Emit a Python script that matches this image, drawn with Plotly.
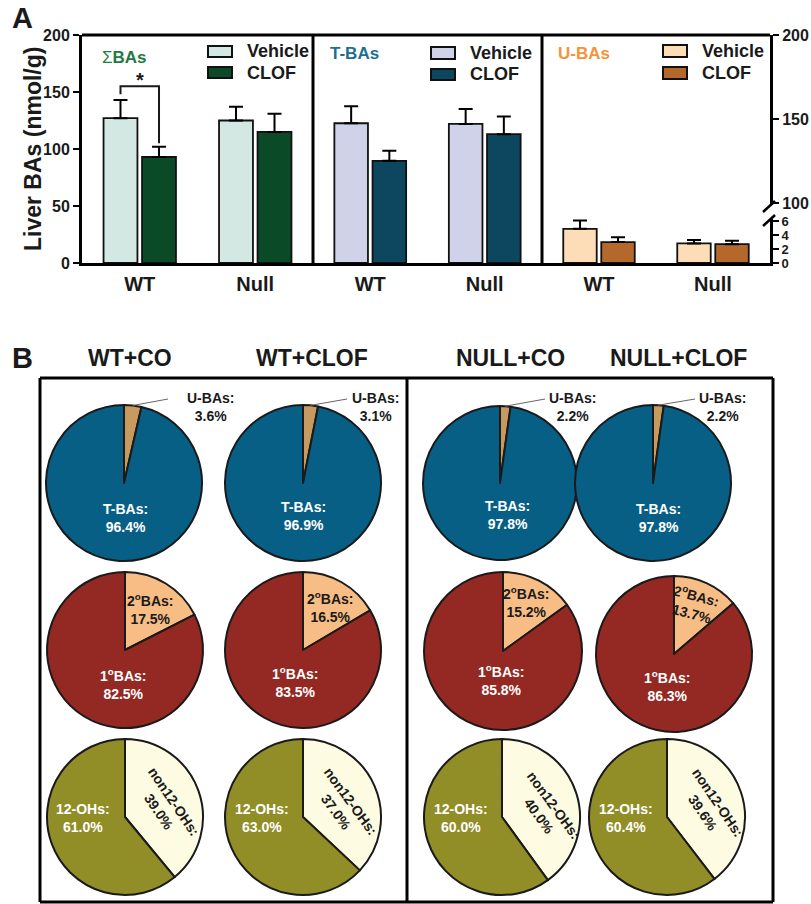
import math

import plotly.graph_objects as go

W, H = 811, 904


def px(x):
    return x / W


def py(y):
    return 1 - y / H


FONT = "Liberation Sans, Arial, Helvetica, sans-serif"

# ---------------- Panel A data: liver bile acids (nmol/g), mean and +SEM ----------------
groups = ["WT", "Null"]
treatments = ["Vehicle", "CLOF"]

sum_vehicle = [127, 125]
sum_vehicle_err = [16, 12]
sum_clof = [93, 115]
sum_clof_err = [9, 16]

tba_vehicle = [122.6, 122]
tba_vehicle_err = [15, 13]
tba_clof = [89.6, 113]
tba_clof_err = [8.8, 15.4]

uba_vehicle = [4.9, 2.8]
uba_vehicle_err = [1.2, 0.5]
uba_clof = [3.0, 2.7]
uba_clof_err = [0.7, 0.5]

left_ticks = [0, 50, 100, 150, 200]
right_low_ticks = [0, 2, 4, 6]
right_high_ticks = [100, 150, 200]

# ---------------- Panel B data: composition (%) ----------------
pie_groups = ["WT+CO", "WT+CLOF", "NULL+CO", "NULL+CLOF"]
u_bas = [3.6, 3.1, 2.2, 2.2]
t_bas = [96.4, 96.9, 97.8, 97.8]
sec_bas = [17.5, 16.5, 15.2, 13.7]
pri_bas = [82.5, 83.5, 85.8, 86.3]
non12_ohs = [39.0, 37.0, 40.0, 39.6]
oh12_ohs = [61.0, 63.0, 60.0, 60.4]

colors = {
    "sum": ["#d3e8e3", "#0a4a27"],
    "tba": ["#cfd2e8", "#0c475f"],
    "uba": ["#fddcb8", "#b5682c"],
}
pie_colors = {
    "u": "#c79b5f", "t": "#075f86",
    "sec": "#f7bd84", "pri": "#942822",
    "non12": "#fdfbe1", "oh12": "#918d27",
}

fig = go.Figure()

err_style = dict(type="data", symmetric=False, color="black", thickness=2, width=7)


def add_bars(xa, ya, veh, veh_err, clof, clof_err, cols):
    for name, vals, errs, col in ((treatments[0], veh, veh_err, cols[0]),
                                  (treatments[1], clof, clof_err, cols[1])):
        fig.add_trace(go.Bar(
            x=groups, y=vals, name=name, xaxis=xa, yaxis=ya,
            offsetgroup=name,
            marker=dict(color=col, line=dict(color="#111111", width=1.8)),
            error_y=dict(array=errs, arrayminus=[0] * len(errs), **err_style),
            showlegend=False, hoverinfo="skip",
        ))


add_bars("x", "y", sum_vehicle, sum_vehicle_err, sum_clof, sum_clof_err, colors["sum"])
add_bars("x2", "y2", tba_vehicle, tba_vehicle_err, tba_clof, tba_clof_err, colors["tba"])
add_bars("x3", "y3", uba_vehicle, uba_vehicle_err, uba_clof, uba_clof_err, colors["uba"])
# empty trace so the upper segment of the broken axis is drawn
fig.add_trace(go.Scatter(x=[groups[0]], y=[None], xaxis="x3", yaxis="y4",
                         mode="markers", showlegend=False, hoverinfo="skip"))

ybot, ytop = 263, 35
xaxis_common = dict(
    type="category", range=[-0.5, 1.5], showline=True, linecolor="black",
    linewidth=3, ticks="", ticklabelstandoff=1, automargin=False,
    tickfont=dict(family=FONT, size=20, color="#1a1a1a", weight="bold"),
    showgrid=False, zeroline=False, fixedrange=True,
)
tick_font = dict(family=FONT, size=16, color="#1a1a1a", weight="bold")
yaxis_common = dict(ticks="outside", ticklen=6, tickwidth=2, tickcolor="black",
                    showline=True, linecolor="black", linewidth=3,
                    showgrid=False, zeroline=False, fixedrange=True,
                    automargin=False)

layout = dict(
    width=W, height=H, margin=dict(l=0, r=0, t=0, b=0, autoexpand=False),
    paper_bgcolor="white", plot_bgcolor="white",
    barmode="group", bargap=0.333, bargroupgap=0.12,
    showlegend=False,
    xaxis=dict(domain=[px(82), px(313)], anchor="y", **xaxis_common),
    xaxis2=dict(domain=[px(313), px(542)], anchor="y2", **xaxis_common),
    xaxis3=dict(domain=[px(542), px(770)], anchor="y3", **xaxis_common),
    yaxis=dict(domain=[py(ybot), py(ytop)], anchor="x", range=[0, 200],
               tickvals=left_ticks, tickfont=tick_font, **yaxis_common),
    yaxis2=dict(domain=[py(ybot), py(ytop)], anchor="x2", range=[0, 200],
                visible=False, fixedrange=True, automargin=False),
    yaxis3=dict(domain=[py(ybot), py(219)], anchor="x3", side="right",
                range=[0, 6.3], tickvals=right_low_ticks,
                tickfont=dict(family=FONT, size=13, color="#1a1a1a", weight="bold"),
                **yaxis_common),
    yaxis4=dict(domain=[py(205), py(ytop)], anchor="x3", side="right",
                range=[98.8, 200], tickvals=right_high_ticks,
                tickfont=tick_font, **yaxis_common),
)

shapes = []
annotations = []


def pline(x0, y0, x1, y1, width=3, color="black"):
    shapes.append(dict(type="line", xref="paper", yref="paper",
                       x0=px(x0), y0=py(y0), x1=px(x1), y1=py(y1),
                       line=dict(color=color, width=width)))


def text(x, y, s, size=14, color="#1a1a1a", weight="bold", xanchor="center",
         yanchor="middle", angle=0):
    annotations.append(dict(xref="paper", yref="paper", x=px(x), y=py(y),
                            text=s, showarrow=False, xanchor=xanchor,
                            yanchor=yanchor, textangle=angle,
                            font=dict(family=FONT, size=size, color=color,
                                      weight=weight)))


# frame of panel A
pline(82, ytop, 770, ytop)
pline(313, ytop, 313, ybot)
pline(542, ytop, 542, ybot)
# axis-break marks
pline(763, 212, 775, 201, width=2.5)
pline(763, 226, 775, 215, width=2.5)

# significance bracket between WT vehicle and WT CLOF
half = (1 - layout["bargap"]) / 4
shapes.append(dict(type="path", xref="x", yref="y",
                   path=f"M {-half},148 L {-half},155 L {half},155 L {half},105",
                   line=dict(color="#1a1a1a", width=2)))
annotations.append(dict(xref="x", yref="y", x=0, y=149, text="*",
                        showarrow=False, yanchor="bottom",
                        font=dict(family=FONT, size=20, color="#1a1a1a",
                                  weight="bold")))

# panel titles and legends
text(100, 57, "Σ<b>BAs</b>", size=17, color="#1f7a43", weight="normal", xanchor="left")
text(328, 53, "T-BAs", size=17, color="#1d6f90", xanchor="left")
text(556, 53, "U-BAs", size=17, color="#f5933a", xanchor="left")

legend_pos = [(208, 46, 57, 67, 78, colors["sum"]),
              (431, 47, 59, 69, 80, colors["tba"]),
              (663, 45, 57, 67, 79, colors["uba"])]
for x0, a0, a1, b0, b1, cols in legend_pos:
    for (y0, y1), col, lab in (((a0, a1), cols[0], treatments[0]),
                                ((b0, b1), cols[1], treatments[1])):
        shapes.append(dict(type="rect", xref="paper", yref="paper",
                           x0=px(x0), x1=px(x0 + 24), y0=py(y1), y1=py(y0),
                           fillcolor=col, line=dict(color="#111111", width=2)))
        text(x0 + 37, (y0 + y1) / 2, lab, size=18, xanchor="left")

text(33, 149, "Liver BAs (nmol/g)", size=23, angle=-90)
text(22, 18, "A", size=29)

# ---------------- Panel B ----------------
text(22, 358, "B", size=29)
title_x = [130, 312, 510, 678]
for tx, g in zip(title_x, pie_groups):
    text(tx, 358, g, size=23)

pline(40, 378, 773, 378)
pline(40, 378, 40, 902)
pline(407, 378, 407, 902)
pline(773, 378, 773, 902)
pline(40, 902, 773, 902)

pie_line = dict(color="#1a1a1a", width=2)


def add_pie(cx, cy, r, labels, values, cols):
    fig.add_trace(go.Pie(
        labels=labels, values=values, sort=False, direction="clockwise",
        rotation=0, textinfo="none", hoverinfo="skip", showlegend=False,
        automargin=False,
        marker=dict(colors=cols, line=pie_line),
        domain=dict(x=[px(cx - r), px(cx + r)], y=[py(cy + r), py(cy - r)]),
    ))


row1 = [(124, 483, 78), (303, 483, 78), (500, 483, 77), (653, 483, 78)]
row2 = [(125, 650, 78), (303, 650, 78), (503, 651, 79), (674, 654, 78)]
row3 = [(125, 817, 78), (303, 817, 78), (502, 817, 78), (667, 817, 78)]

t_label = [(125, 518), (303, 516), (507, 515), (658, 518)]
u_label = [(210, 407), (375, 407), (572, 407), (722, 407)]
u_leader_end = [(168, 399), (347, 399), (545, 399), (695, 399)]

sec_label = [(150, 609, 0), (330, 607, 0), (526, 602, 0), (694, 604, 15)]
pri_label = [(123, 684), (295, 682), (501, 680), (667, 686)]

oh12_label = [(83, 818), (262, 818), (461, 818), (626, 818)]
non12_label = [(166, 806, 56), (343, 806, 54), (546, 810, 54), (710, 807, 56)]

for i in range(4):
    cx, cy, r = row1[i]
    add_pie(cx, cy, r, ["U-BAs", "T-BAs"], [u_bas[i], t_bas[i]],
            [pie_colors["u"], pie_colors["t"]])
    text(*t_label[i], f"T-BAs:<br>{t_bas[i]:.1f}%", size=14, color="white")
    text(*u_label[i], f"U-BAs:<br>{u_bas[i]:.1f}%", size=14)
    theta = math.radians(u_bas[i] / 100 * 360 / 2)
    sx, sy = cx + r * math.sin(theta), cy - r * math.cos(theta)
    ex, ey = u_leader_end[i]
    pline(sx, sy, ex, ey, width=1, color="#666666")

    cx, cy, r = row2[i]
    add_pie(cx, cy, r, ["2°BAs", "1°BAs"], [sec_bas[i], pri_bas[i]],
            [pie_colors["sec"], pie_colors["pri"]])
    lx, ly, la = sec_label[i]
    text(lx, ly, f"2<sup>o</sup>BAs:<br>{sec_bas[i]:.1f}%", size=14, angle=la)
    text(*pri_label[i], f"1<sup>o</sup>BAs:<br>{pri_bas[i]:.1f}%", size=14,
         color="white")

    cx, cy, r = row3[i]
    add_pie(cx, cy, r, ["non12-OHs", "12-OHs"], [non12_ohs[i], oh12_ohs[i]],
            [pie_colors["non12"], pie_colors["oh12"]])
    text(*oh12_label[i], f"12-OHs:<br>{oh12_ohs[i]:.1f}%", size=14, color="white")
    lx, ly, la = non12_label[i]
    text(lx, ly, f"non12-OHs:<br>{non12_ohs[i]:.1f}%", size=14, angle=la)

layout["shapes"] = shapes
layout["annotations"] = annotations
fig.update_layout(**layout)

# the figure fills the page exactly, so drop the browser's default body margin
fig.write_html("out.html", post_script="document.body.style.margin = '0';")
